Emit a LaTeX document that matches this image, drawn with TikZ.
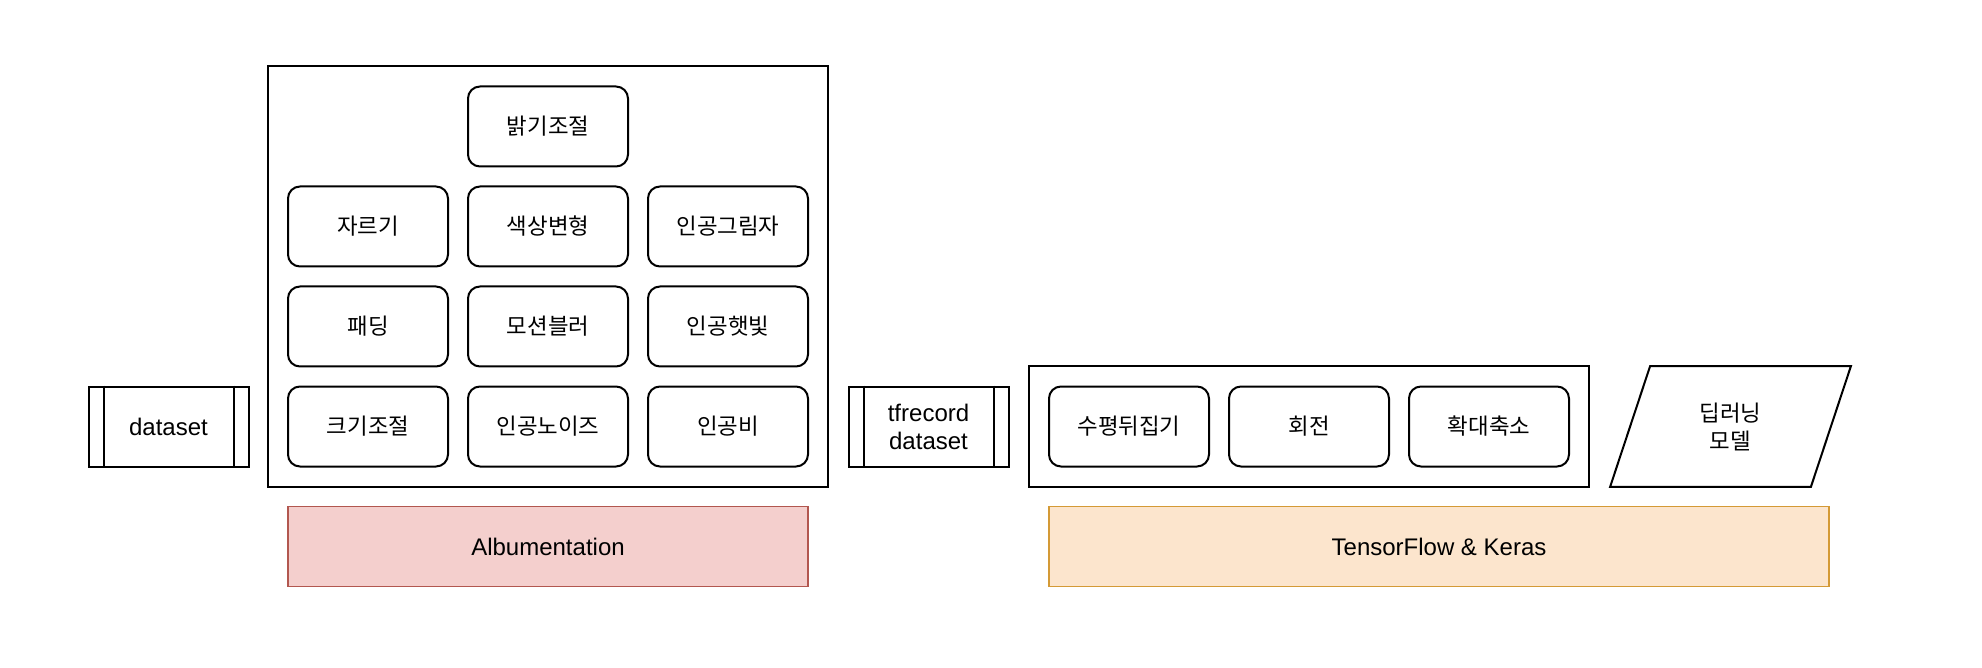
\documentclass[tikz,border=0pt]{standalone}
\usepackage{fontspec}
\setmainfont{Liberation Sans}
\newfontfamily\krfont{Noto Sans CJK KR}
\usetikzlibrary{calc}
\definecolor{albfill}{HTML}{F4CFCD}
\definecolor{albdraw}{HTML}{B2574F}
\definecolor{tffill}{HTML}{FCE5CD}
\definecolor{tfdraw}{HTML}{D49A36}
\begin{document}
\begin{tikzpicture}[x=0.5pt,y=-0.5pt,
  box/.style={draw,line width=1pt,rounded corners=6pt,minimum width=80pt,minimum height=40pt,inner sep=0pt,
    font=\krfont\fontsize{11.2}{13}\selectfont},
  frame/.style={draw,line width=1pt,inner sep=0pt},
  proc/.style={draw,line width=1pt,minimum width=80pt,minimum height=40pt,inner sep=0pt,align=center,
    font=\fontsize{12}{14}\selectfont},
  band/.style={draw,line width=0.9pt,minimum height=40pt,inner sep=0pt,font=\fontsize{12}{14}\selectfont},
  edge/.style={line width=1pt}]
\useasboundingbox (0,0) rectangle (1982,668);

% Albumentation group
\node[frame,minimum width=280pt,minimum height=210pt] (albgroup) at (548,276.5) {};
\node[box] (bright) at (548,126.5) {밝기조절};
\node[box] (crop) at (368,226.5) {자르기};
\node[box] (color) at (548,226.5) {색상변형};
\node[box] (shadow) at (728,226.5) {인공그림자};
\node[box] (pad) at (368,326.5) {패딩};
\node[box] (blur) at (548,326.5) {모션블러};
\node[box] (sun) at (728,326.5) {인공햇빛};
\node[box] (resize) at (368,426.5) {크기조절};
\node[box] (noise) at (548,426.5) {인공노이즈};
\node[box] (rain) at (728,426.5) {인공비};

% dataset
\node[proc] (ds) at (168.5,426.5) {dataset};
\draw[edge] ($(ds.north west)+(16,0)$) -- ($(ds.south west)+(16,0)$);
\draw[edge] ($(ds.north east)-(16,0)$) -- ($(ds.south east)-(16,0)$);

% tfrecord dataset
\node[proc] (tfr) at (928.5,426.5) {tfrecord\\dataset};
\draw[edge] ($(tfr.north west)+(16,0)$) -- ($(tfr.south west)+(16,0)$);
\draw[edge] ($(tfr.north east)-(16,0)$) -- ($(tfr.south east)-(16,0)$);

% TensorFlow group
\node[frame,minimum width=280pt,minimum height=60pt] (tfgroup) at (1309,426.5) {};
\node[box] (flip) at (1129,426.5) {수평뒤집기};
\node[box] (rot) at (1309,426.5) {회전};
\node[box] (zoom) at (1489,426.5) {확대축소};

% model parallelogram
\node[minimum width=120pt,minimum height=60pt,inner sep=0pt,align=center,
  font=\krfont\fontsize{11.2}{14}\selectfont] (model) at (1730.5,426.5) {딥러닝\\모델};
\draw[edge,line join=miter] ($(model.north west)+(40,0)$) -- (model.north east)
  -- ($(model.south east)-(40,0)$) -- (model.south west) -- cycle;

% bands
\node[band,fill=albfill,draw=albdraw,minimum width=260pt] (alb) at (548,546.5) {Albumentation};
\node[band,fill=tffill,draw=tfdraw,minimum width=390pt] (tfk) at (1439,546.5) {TensorFlow \& Keras};
\end{tikzpicture}
\end{document}
